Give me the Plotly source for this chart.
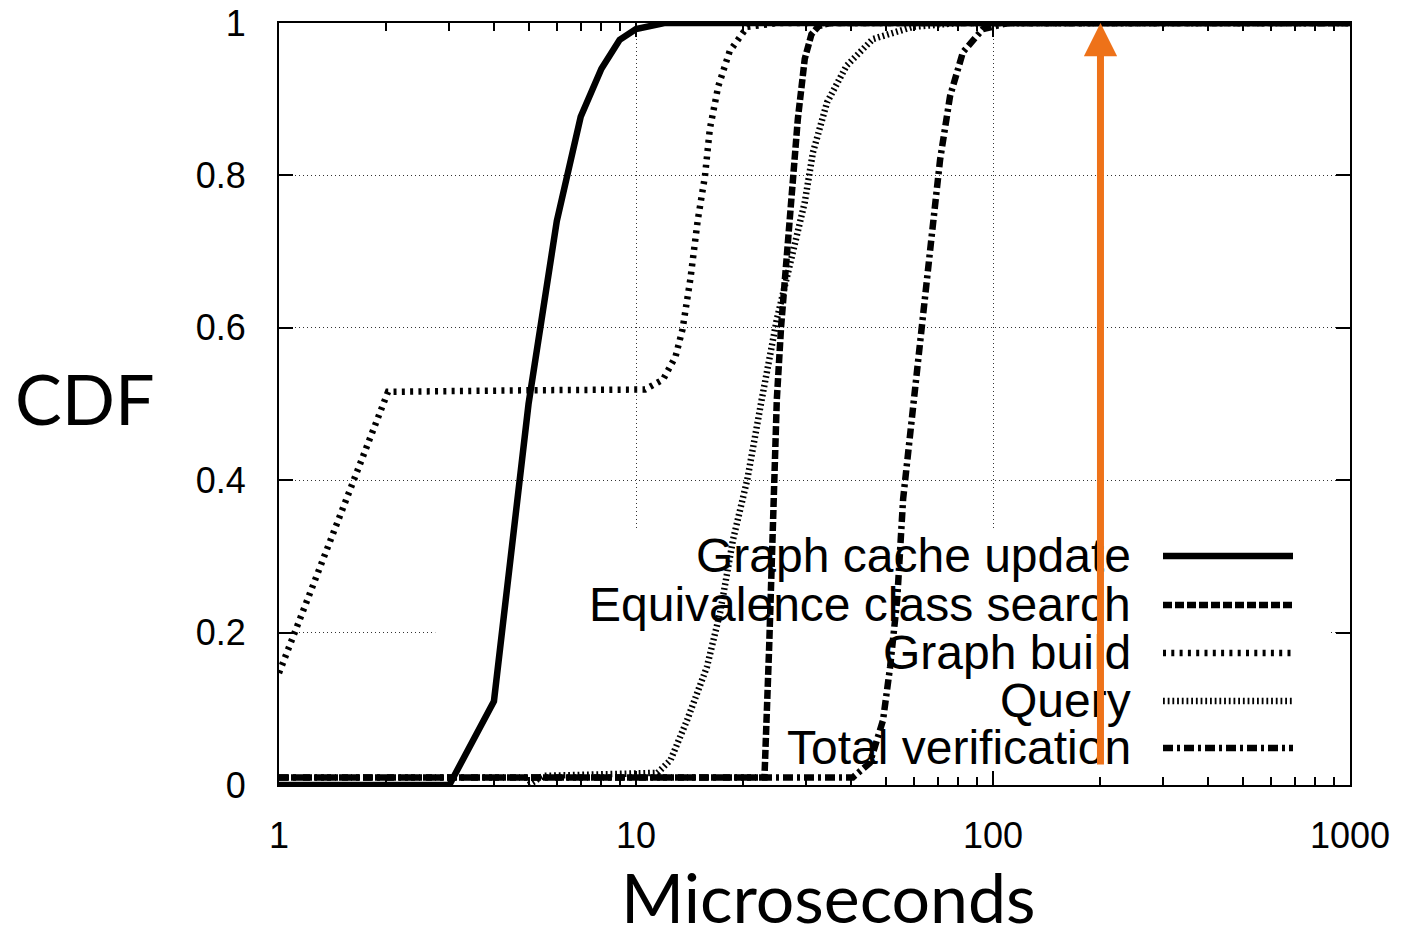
import math
import plotly.graph_objects as go

# ---------------- data ----------------
series_names = ["Graph cache update", "Equivalence class search", "Graph build", "Query", "Total verification"]

cache_x = [1, 2, 3, 4, 5, 6, 7, 8, 9, 10, 11, 12, 15, 20, 50, 100, 1000]
cache_y = [0, 0, 0, 0.11, 0.5, 0.74, 0.877, 0.94, 0.978, 0.992, 0.997, 1.0, 1.0, 1.0, 1.0, 1.0, 1.0]

equiv_x = [1, 5, 10, 20, 22.9, 23.6, 24.4, 24.8, 25.5, 26.5, 27.5, 28.4, 29.7, 31, 32.5, 35, 50, 100, 1000]
equiv_y = [0.01, 0.01, 0.01, 0.01, 0.01, 0.18, 0.4, 0.506, 0.602, 0.70, 0.80, 0.874, 0.953, 0.985, 0.996, 1.0, 1.0, 1.0, 1.0]

build_x = [1, 2.02, 5, 10.6, 11.9, 12.9, 13.5, 14.2, 14.9, 15.6, 16.1, 17.0, 18.3, 20.5, 25, 100, 1000]
build_y = [0.147, 0.516, 0.518, 0.519, 0.532, 0.562, 0.598, 0.664, 0.742, 0.799, 0.861, 0.917, 0.963, 0.995, 1.0, 1.0, 1.0]

query_x = [5, 5.5, 8, 11.5, 12.5, 13.9, 15.8, 17.2, 18.7, 20.5, 22.5, 24.8, 27.5, 29.7, 31.3, 34.3, 38.9, 46.1, 59.7, 80, 1000]
query_y = [0.0, 0.012, 0.014, 0.016, 0.033, 0.085, 0.155, 0.226, 0.322, 0.401, 0.506, 0.611, 0.699, 0.765, 0.830, 0.896, 0.944, 0.979, 0.995, 1.0, 1.0]

total_x = [1, 10, 30, 40.5, 45.2, 49.2, 51.5, 53.9, 56.0, 59.7, 63.2, 67.5, 71.1, 75.8, 82.4, 93.7, 110, 1000]
total_y = [0.01, 0.01, 0.01, 0.01, 0.029, 0.085, 0.155, 0.243, 0.375, 0.506, 0.602, 0.725, 0.821, 0.904, 0.962, 0.992, 1.0, 1.0]

x_tick_vals = [1, 10, 100, 1000]
x_tick_text = ["1", "10", "100", "1000"]
y_tick_vals = [0, 0.2, 0.4, 0.6, 0.8, 1.0]
y_tick_text = ["0", "0.2", "0.4", "0.6", "0.8", "1"]

arrow_x = 200
arrow_y_from = 0.025
arrow_y_to = 1.0

# ---------------- layout geometry ----------------
W, H = 1402, 930
OFF = 8  # page body margin offset
X0S, X1S, Y0S, Y1S = 279, 1350, 23, 785  # desired plot area on screen
L = X0S - OFF
R = W - X1S + OFF
T = Y0S - OFF
B = H - Y1S + OFF
PW, PH = W - L - R, H - T - B

def px(xs):
    return (xs - X0S) / PW

def py(ys):
    return (Y1S - ys) / PH

LW = 6.5
styles = [
    dict(color="black", width=LW, dash="solid"),
    dict(color="black", width=LW, dash="9px,3px"),
    dict(color="black", width=LW, dash="3px,5.3px"),
    dict(color="black", width=LW, dash="1.8px,2.9px"),
    dict(color="black", width=LW, dash="10px,4px,3px,4px"),
]

all_x = [cache_x, equiv_x, build_x, query_x, total_x]
all_y = [cache_y, equiv_y, build_y, query_y, total_y]

fig = go.Figure()
for name, xs, ys, st in zip(series_names, all_x, all_y, styles):
    fig.add_trace(go.Scatter(x=xs, y=ys, mode="lines", name=name, line=st,
                             showlegend=False))

minor_vals = [m * 10 ** d for d in range(0, 3) for m in range(2, 10)]

tick_font = dict(family="Liberation Sans, Arial, sans-serif", size=36, color="black")

fig.update_xaxes(
    type="log", range=[0, 3], automargin=False, ticklabeloverflow="allow",
    tickmode="array", tickvals=x_tick_vals, ticktext=x_tick_text,
    ticks="inside", ticklen=14, tickwidth=1.5, tickcolor="black",
    minor=dict(tickmode="array", tickvals=minor_vals, ticks="inside", ticklen=8,
               tickwidth=1.5, tickcolor="black", showgrid=False),
    showline=True, linecolor="black", linewidth=2, mirror="allticks",
    showgrid=True, gridcolor="#333", gridwidth=1, griddash="1px,3px",
    tickfont=tick_font, ticklabelstandoff=18, zeroline=False,
)
fig.update_yaxes(
    range=[0, 1], automargin=False, ticklabeloverflow="allow",
    tickmode="array", tickvals=y_tick_vals, ticktext=y_tick_text,
    ticks="inside", ticklen=14, tickwidth=1.5, tickcolor="black",
    showline=True, linecolor="black", linewidth=2, mirror="allticks",
    showgrid=True, gridcolor="#333", gridwidth=1, griddash="1px,3px",
    tickfont=tick_font, ticklabelstandoff=24, zeroline=False,
)

shapes = []
# white backing behind the key (hides grid only)
shapes.append(dict(type="rect", xref="x", yref="y",
                   x0=2.74, x1=879, y0=0, y1=0.335,
                   fillcolor="white", line=dict(width=0), layer="between"))

annotations = []
key_y = [556, 605, 653, 701, 748]
for name, st, yp in zip(series_names, styles, key_y):
    shapes.append(dict(type="line", xref="paper", yref="paper",
                       x0=px(1163), x1=px(1293), y0=py(yp), y1=py(yp),
                       line=dict(color="black", width=LW, dash=st["dash"]),
                       layer="above"))
    annotations.append(dict(x=px(1133), y=py(yp - 1), xref="paper", yref="paper",
                            text=name, showarrow=False, xanchor="right", yanchor="middle",
                            font=dict(family="Liberation Sans, Arial, sans-serif", size=48,
                                      color="black")))

# axis titles
title_font = dict(family="Lato, 'Open Sans', sans-serif", size=70, color="black")
annotations.append(dict(x=px(85), y=py(398), xref="paper", yref="paper", text="CDF",
                        showarrow=False, xanchor="center", yanchor="middle", font=title_font))
annotations.append(dict(x=px(828), y=py(896), xref="paper", yref="paper", text="Microseconds",
                        showarrow=False, xanchor="center", yanchor="middle",
                        font=dict(family="Lato, 'Open Sans', sans-serif", size=68, color="black")))

# orange arrow
annotations.append(dict(x=math.log10(arrow_x), y=arrow_y_to, xref="x", yref="y",
                        ax=math.log10(arrow_x), ay=arrow_y_from, axref="x", ayref="y",
                        text="", showarrow=True, arrowhead=2, arrowsize=0.95,
                        arrowwidth=7, arrowcolor="#EE7219"))

fig.update_layout(
    width=W, height=H,
    margin=dict(l=L, r=R, t=T, b=B),
    paper_bgcolor="white", plot_bgcolor="white",
    shapes=shapes, annotations=annotations, showlegend=False,
)

fig.write_html("out.html")
